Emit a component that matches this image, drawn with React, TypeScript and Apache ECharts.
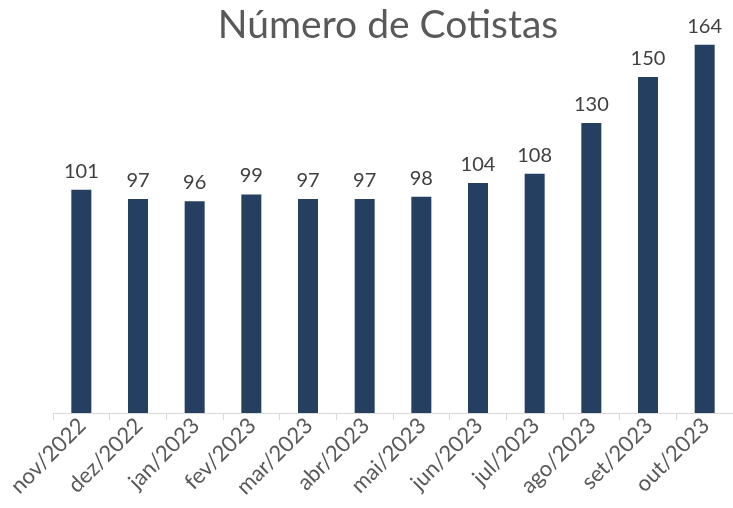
import React, { useEffect, useRef } from "react";
import * as echarts from "echarts";

const categories = ["nov/2022", "dez/2022", "jan/2023", "fev/2023", "mar/2023", "abr/2023", "mai/2023", "jun/2023", "jul/2023", "ago/2023", "set/2023", "out/2023"];
const values = [101, 97, 96, 99, 97, 97, 98, 104, 108, 130, 150, 164];
const title = "Número de Cotistas";

export default function App() {
  const ref = useRef<HTMLDivElement>(null);
  useEffect(() => {
    const chart = echarts.init(ref.current!, null, { renderer: "svg" });
    chart.setOption({
      animation: false,
      title: {
        text: title,
        left: 383,
        textAlign: "center",
        top: -2,
        textStyle: { fontFamily: "Lato", fontSize: 39, fontWeight: "normal", color: "#595959" },
      },
      grid: { left: 53, right: 0, top: 8, bottom: 95 },
      xAxis: {
        type: "category",
        data: categories,
        axisLine: { lineStyle: { color: "#d9d9d9", width: 1 } },
        axisTick: { show: true, length: 7, lineStyle: { color: "#d9d9d9" } },
        axisLabel: {
          rotate: 45,
          interval: 0,
          fontFamily: "Lato",
          fontSize: 22,
          color: "#595959",
          margin: 8,
        },
      },
      yAxis: {
        type: "value",
        min: 4,
        max: 180,
        show: false,
        splitLine: { show: false },
      },
      series: [
        {
          type: "bar",
          data: values,
          barWidth: 20,
          itemStyle: { color: "#243f60" },
          label: {
            show: true,
            position: "top",
            distance: 10,
            fontFamily: "Lato",
            fontSize: 20,
            color: "#404040",
          },
        },
      ],
    });
    return () => chart.dispose();
  }, []);
  return <div ref={ref} style={{ position: "fixed", left: 0, top: 0, width: 733, height: 508 }} />;
}
